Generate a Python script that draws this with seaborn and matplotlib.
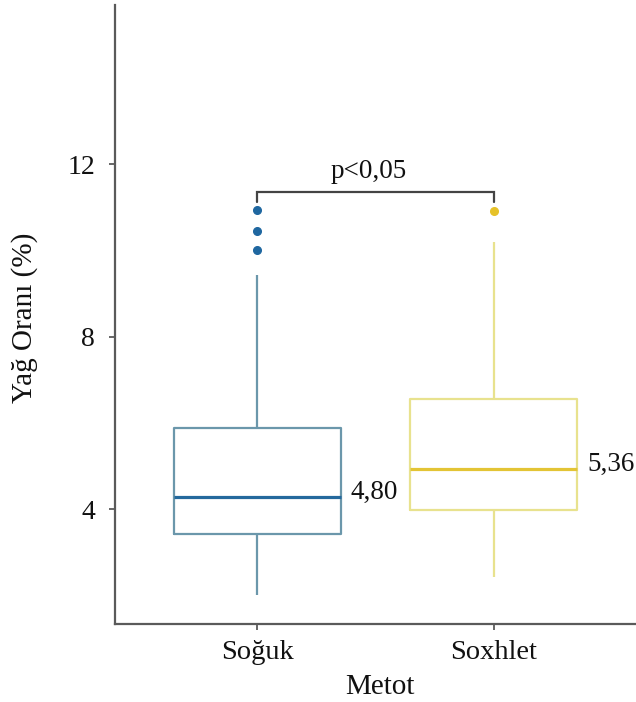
import numpy as np
import pandas as pd
import matplotlib
matplotlib.use("Agg")
import matplotlib.pyplot as plt
import seaborn as sns

# ---- data ----
groups = ["Soğuk", "Soxhlet"]
whisker_low = [2.00, 2.42]
q1 = [3.42, 3.98]
median = [4.29, 4.94]
q3 = [5.89, 6.55]
whisker_high = [9.43, 10.20]
outliers = [[10.01, 10.46, 10.95], [10.91]]
mean_values = [4.80, 5.36]
y_ticks = [4, 8, 12]
p_text = "p<0,05"

edge_colors = ["#6b97ab", "#e8e28e"]
median_colors = ["#24699d", "#e3c435"]
outlier_colors = ["#1f67a0", "#e6c229"]

# summary-preserving sample per group (reproduces the five-number summary)
rows = []
for g, lo, a, m, b, hi, outs in zip(groups, whisker_low, q1, median, q3, whisker_high, outliers):
    vals = [lo] + [a] * 5 + [m] * 5 + [b] * 5 + [hi] + list(outs)
    rows += [(g, v) for v in vals]
df = pd.DataFrame(rows, columns=["Metot", "Yağ"])

sns.set_theme(style="ticks")
plt.rcParams["font.family"] = ["Liberation Serif", "DejaVu Serif"]

fig = plt.figure(figsize=(6.36, 7.02), dpi=100)
ax = fig.add_axes([0.181, 0.111, 0.819, 0.882])

for i, g in enumerate(groups):
    sns.boxplot(
        data=df[df["Metot"] == g], x="Metot", y="Yağ", order=groups,
        color=edge_colors[i], fill=False, width=0.705, showcaps=False,
        linewidth=1.6, whis=1.5,
        medianprops=dict(color=median_colors[i], linewidth=2.3),
        flierprops=dict(marker="o", markerfacecolor=outlier_colors[i],
                        markeredgecolor=outlier_colors[i], markersize=5.5),
        ax=ax,
    )

# mean labels
for i, (m, mv) in enumerate(zip(median, mean_values)):
    ax.text(i + 0.352 + 0.042, m + 0.09, f"{mv:.2f}".replace(".", ","),
            ha="left", va="center", fontsize=19.5, color="#111111", clip_on=False)

# significance bracket
yb, yt = 11.13, 11.36
ax.plot([0, 0, 1, 1], [yb, yt, yt, yb], color="#444444", lw=1.6, solid_joinstyle="miter")
ax.text(0.47, 11.68, p_text, ha="center", va="baseline", fontsize=19.5, color="#111111")

ax.set_xlim(-0.6, 1.6)
ax.set_ylim(1.33, 15.70)
ax.set_yticks(y_ticks)
ax.set_yticklabels([str(t) for t in y_ticks])

for s in ["top", "right"]:
    ax.spines[s].set_visible(False)
for s in ["left", "bottom"]:
    ax.spines[s].set_color("#5a5a5a")
    ax.spines[s].set_linewidth(1.6)

ax.tick_params(axis="both", which="major", direction="out", length=4.5, width=1.3,
               color="#5a5a5a", labelcolor="#111111", bottom=True, left=True)
ax.tick_params(axis="x", labelsize=20.5, pad=7)
ax.tick_params(axis="y", labelsize=20, pad=10)

ax.set_xlabel("Metot", fontsize=21, color="#111111")
ax.set_ylabel("Yağ Oranı (%)", fontsize=21, color="#111111")
ax.xaxis.set_label_coords(0.509, -0.08)
ax.yaxis.set_label_coords(-0.148, 0.494)

fig.savefig("out.png", dpi=100)
